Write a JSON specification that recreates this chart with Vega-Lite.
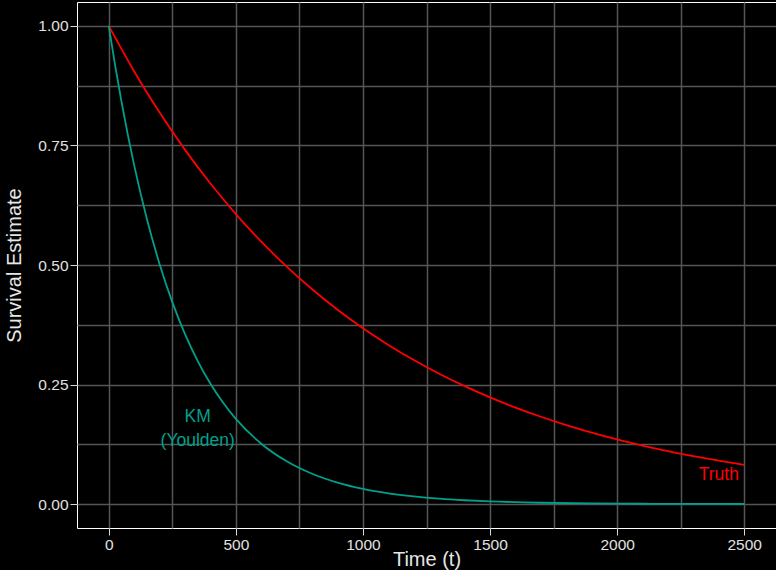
{
  "$schema": "https://vega.github.io/schema/vega-lite/v6.json",
  "width": 699,
  "height": 526,
  "autosize": {"type": "none"},
  "padding": {"left": 77, "top": 2, "right": 0, "bottom": 42},
  "background": "#000000",
  "config": {
    "view": {"stroke": "#ffffff", "strokeWidth": 1},
    "font": "Liberation Sans",
    "axis": {
      "domain": false,
      "grid": true,
      "gridColor": "#555555",
      "gridWidth": 1.5,
      "tickColor": "#d9d9d9",
      "tickSize": 7,
      "tickWidth": 1,
      "labelColor": "#e0e0e0",
      "labelFont": "Liberation Sans",
      "labelFontSize": 15.5,
      "labelPadding": 2,
      "titleColor": "#e6e6e6",
      "titleFont": "Liberation Sans",
      "titleFontSize": 20,
      "titleFontWeight": "normal"
    }
  },
  "datasets": {
    "curves": [
      {"t": 0, "S": 1, "series": "Truth"},
      {"t": 100, "S": 0.9048, "series": "Truth"},
      {"t": 200, "S": 0.8187, "series": "Truth"},
      {"t": 300, "S": 0.7408, "series": "Truth"},
      {"t": 400, "S": 0.6703, "series": "Truth"},
      {"t": 500, "S": 0.6065, "series": "Truth"},
      {"t": 600, "S": 0.5488, "series": "Truth"},
      {"t": 700, "S": 0.4966, "series": "Truth"},
      {"t": 800, "S": 0.4493, "series": "Truth"},
      {"t": 900, "S": 0.4066, "series": "Truth"},
      {"t": 1000, "S": 0.3679, "series": "Truth"},
      {"t": 1100, "S": 0.3329, "series": "Truth"},
      {"t": 1200, "S": 0.3012, "series": "Truth"},
      {"t": 1300, "S": 0.2725, "series": "Truth"},
      {"t": 1400, "S": 0.2466, "series": "Truth"},
      {"t": 1500, "S": 0.2231, "series": "Truth"},
      {"t": 1600, "S": 0.2019, "series": "Truth"},
      {"t": 1700, "S": 0.1827, "series": "Truth"},
      {"t": 1800, "S": 0.1653, "series": "Truth"},
      {"t": 1900, "S": 0.1496, "series": "Truth"},
      {"t": 2000, "S": 0.1353, "series": "Truth"},
      {"t": 2100, "S": 0.1225, "series": "Truth"},
      {"t": 2200, "S": 0.1108, "series": "Truth"},
      {"t": 2300, "S": 0.1003, "series": "Truth"},
      {"t": 2400, "S": 0.0907, "series": "Truth"},
      {"t": 2500, "S": 0.0821, "series": "Truth"},
      {"t": 0, "S": 1, "series": "KM"},
      {"t": 25, "S": 0.9174, "series": "KM"},
      {"t": 50, "S": 0.8416, "series": "KM"},
      {"t": 75, "S": 0.7721, "series": "KM"},
      {"t": 100, "S": 0.7083, "series": "KM"},
      {"t": 150, "S": 0.5962, "series": "KM"},
      {"t": 200, "S": 0.5017, "series": "KM"},
      {"t": 250, "S": 0.4223, "series": "KM"},
      {"t": 300, "S": 0.3554, "series": "KM"},
      {"t": 350, "S": 0.2991, "series": "KM"},
      {"t": 400, "S": 0.2517, "series": "KM"},
      {"t": 450, "S": 0.2119, "series": "KM"},
      {"t": 500, "S": 0.1783, "series": "KM"},
      {"t": 600, "S": 0.1263, "series": "KM"},
      {"t": 700, "S": 0.0895, "series": "KM"},
      {"t": 800, "S": 0.0634, "series": "KM"},
      {"t": 900, "S": 0.0449, "series": "KM"},
      {"t": 1000, "S": 0.0318, "series": "KM"},
      {"t": 1100, "S": 0.0225, "series": "KM"},
      {"t": 1200, "S": 0.016, "series": "KM"},
      {"t": 1300, "S": 0.0113, "series": "KM"},
      {"t": 1400, "S": 0.008, "series": "KM"},
      {"t": 1500, "S": 0.0057, "series": "KM"},
      {"t": 1700, "S": 0.0028, "series": "KM"},
      {"t": 1900, "S": 0.0014, "series": "KM"},
      {"t": 2100, "S": 0.0007, "series": "KM"},
      {"t": 2300, "S": 0.0004, "series": "KM"},
      {"t": 2500, "S": 0.0002, "series": "KM"}
    ],
    "labels": [
      {"t": 2400, "S": 0.061, "series": "Truth", "label": "Truth"},
      {"t": 350, "S": 0.182, "series": "KM", "label": "KM\n(Youlden)"}
    ]
  },
  "encoding": {
    "x": {
      "field": "t",
      "type": "quantitative",
      "scale": {"domain": [-125, 2625], "nice": false, "zero": false},
      "axis": {
        "title": "Time (t)",
        "titlePadding": -3,
        "format": "d",
        "values": [0, 250, 500, 750, 1000, 1250, 1500, 1750, 2000, 2250, 2500],
        "labelExpr": "datum.value % 500 == 0 ? datum.label : ''",
        "tickOpacity": {"condition": {"test": "datum.value % 500 != 0", "value": 0}, "value": 1}
      }
    },
    "y": {
      "field": "S",
      "type": "quantitative",
      "scale": {"domain": [-0.05, 1.05], "nice": false, "zero": false},
      "axis": {
        "title": "Survival Estimate",
        "titlePadding": 13,
        "format": ".2f",
        "values": [0, 0.125, 0.25, 0.375, 0.5, 0.625, 0.75, 0.875, 1],
        "labelExpr": "datum.value % 0.25 == 0 ? datum.label : ''",
        "tickOpacity": {"condition": {"test": "datum.value % 0.25 != 0", "value": 0}, "value": 1}
      }
    },
    "color": {
      "field": "series",
      "type": "nominal",
      "scale": {"domain": ["Truth", "KM"], "range": ["#FF0000", "#00A08A"]},
      "legend": null
    }
  },
  "layer": [
    {
      "data": {"name": "curves"},
      "mark": {"type": "line", "strokeWidth": 1.8, "interpolate": "monotone"}
    },
    {
      "data": {"name": "labels"},
      "mark": {"type": "text", "fontSize": 17.5, "font": "Liberation Sans", "lineBreak": "\n", "lineHeight": 24, "baseline": "middle", "align": "center"},
      "encoding": {"text": {"field": "label"}}
    }
  ]
}
